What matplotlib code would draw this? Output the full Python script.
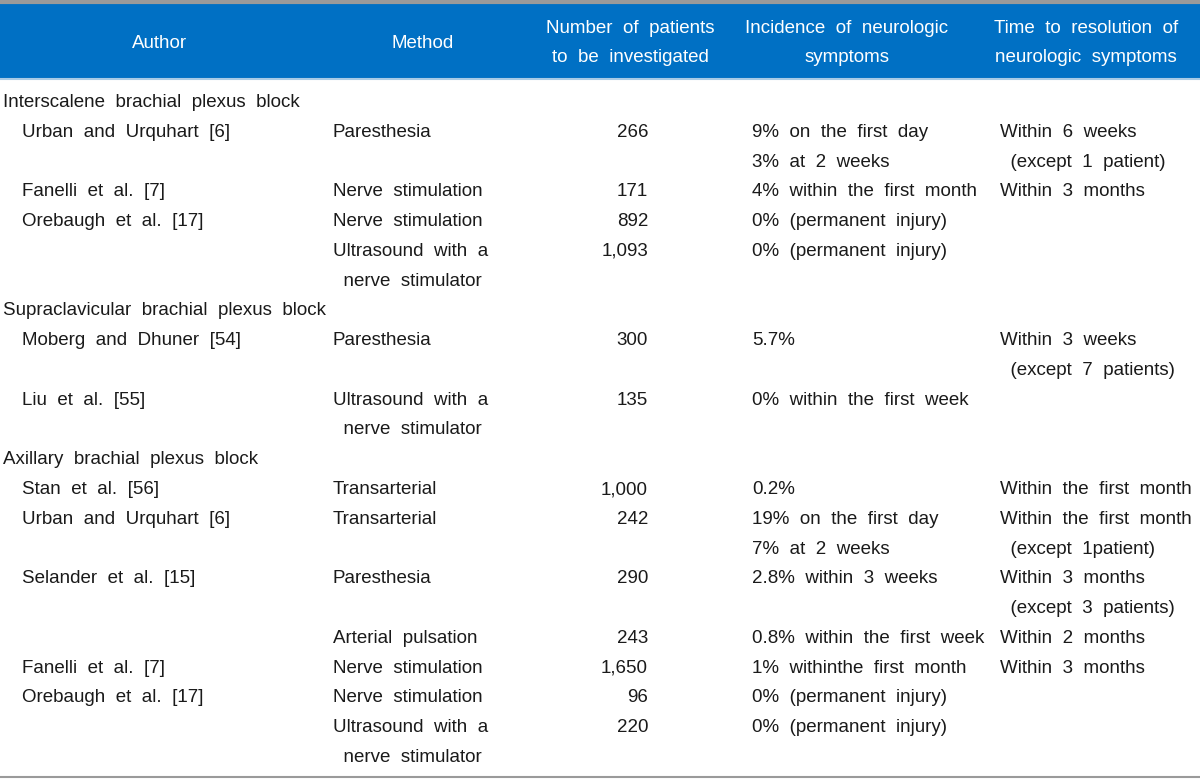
import matplotlib.pyplot as plt
from matplotlib.patches import Rectangle
from matplotlib.lines import Line2D

plt.rcParams['font.family'] = ['Liberation Sans', 'DejaVu Sans']

# header of the table
headers = ["Author", "Method", "Number of patients\nto be investigated",
           "Incidence of neurologic\nsymptoms", "Time to resolution of\nneurologic symptoms"]

# one entry per printed line of the table
groups = {0: "Interscalene brachial plexus block",
          7: "Supraclavicular brachial plexus block",
          12: "Axillary brachial plexus block"}

authors = ["", "Urban and Urquhart [6]", "", "Fanelli et al. [7]", "Orebaugh et al. [17]", "", "",
           "", "Moberg and Dhuner [54]", "", "Liu et al. [55]", "",
           "", "Stan et al. [56]", "Urban and Urquhart [6]", "", "Selander et al. [15]", "", "",
           "Fanelli et al. [7]", "Orebaugh et al. [17]", "", ""]
methods = ["", "Paresthesia", "", "Nerve stimulation", "Nerve stimulation", "Ultrasound with a", " nerve stimulator",
           "", "Paresthesia", "", "Ultrasound with a", " nerve stimulator",
           "", "Transarterial", "Transarterial", "", "Paresthesia", "", "Arterial pulsation",
           "Nerve stimulation", "Nerve stimulation", "Ultrasound with a", " nerve stimulator"]
patients = ["", "266", "", "171", "892", "1,093", "",
            "", "300", "", "135", "",
            "", "1,000", "242", "", "290", "", "243",
            "1,650", "96", "220", ""]
incidence = ["", "9% on the first day", "3% at 2 weeks", "4% within the first month",
             "0% (permanent injury)", "0% (permanent injury)", "",
             "", "5.7%", "", "0% within the first week", "",
             "", "0.2%", "19% on the first day", "7% at 2 weeks", "2.8% within 3 weeks", "",
             "0.8% within the first week", "1% withinthe first month",
             "0% (permanent injury)", "0% (permanent injury)", ""]
resolution = ["", "Within 6 weeks", " (except 1 patient)", "Within 3 months", "", "", "",
              "", "Within 3 weeks", " (except 7 patients)", "", "",
              "", "Within the first month", "Within the first month", " (except 1patient)",
              "Within 3 months", " (except 3 patients)", "Within 2 months",
              "Within 3 months", "", "", ""]

W, H = 1200, 784
fig = plt.figure(figsize=(12, 7.84), dpi=100)
ax = fig.add_axes([0, 0, 1, 1])
ax.set_xlim(0, W)
ax.set_ylim(H, 0)
ax.axis('off')

fs = 13.5
blue = '#0070C4'
ink = '#1a1a1a'


def wide(s):
    # the original typeface uses wide word spaces
    return s.replace(' ', '  ')


# header band and rules
ax.add_patch(Rectangle((0, 4), W, 74, color=blue, lw=0))
ax.add_line(Line2D([0, W], [2, 2], color='#9a9a9a', lw=3))
ax.add_line(Line2D([0, W], [78.5, 78.5], color='#a9cbe6', lw=1.5))
ax.add_line(Line2D([0, W], [777, 777], color='#9a9a9a', lw=1.5))

header_x = [160, 423, 630, 847, 1086]
for x, h in zip(header_x, headers):
    parts = h.split('\n')
    ys = [43] if len(parts) == 1 else [28, 57]
    for y, p in zip(ys, parts):
        ax.text(x, y, wide(p), color='white', fontsize=fs, ha='center', va='center')

y0, dy = 102.5, 29.77
for i in range(len(authors)):
    y = y0 + i * dy
    if i in groups:
        ax.text(3, y, wide(groups[i]), fontsize=fs, va='center', color=ink)
        continue
    ax.text(22, y, wide(authors[i]), fontsize=fs, va='center', color=ink)
    ax.text(333, y, wide(methods[i]), fontsize=fs, va='center', color=ink)
    ax.text(648, y, patients[i], fontsize=fs, va='center', ha='right', color=ink)
    ax.text(752, y, wide(incidence[i]), fontsize=fs, va='center', color=ink)
    ax.text(1000, y, wide(resolution[i]), fontsize=fs, va='center', color=ink)

fig.savefig('out.png', dpi=100)
